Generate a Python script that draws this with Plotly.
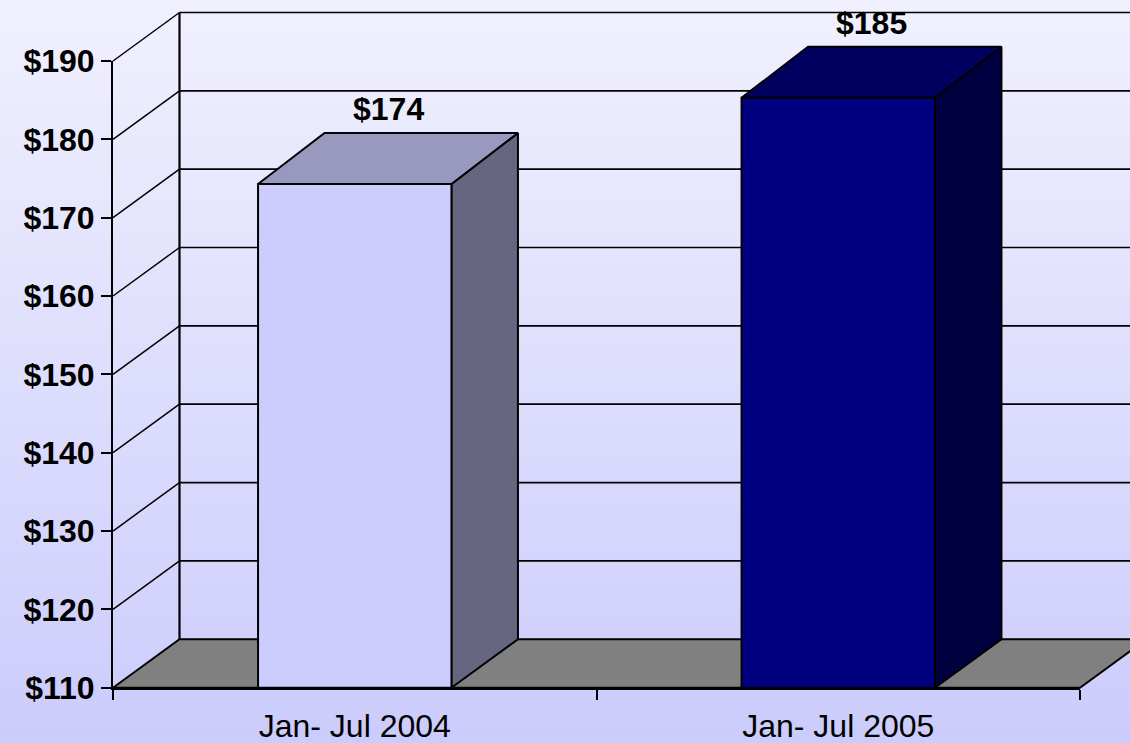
import plotly.graph_objects as go

# ---------------- data ----------------
categories = ["Jan- Jul 2004", "Jan- Jul 2005"]
values = [174.3, 185.3]
label_texts = ["$174", "$185"]
y_tick_values = [110, 120, 130, 140, 150, 160, 170, 180, 190]
y_tick_labels = ["$110", "$120", "$130", "$140", "$150", "$160", "$170", "$180", "$190"]
front_colors = ["#CCCCFF", "#000080"]
top_colors = ["#9999C0", "#00005F"]
side_colors = ["#666680", "#000040"]

# ---------------- geometry (layout) ----------------
W, H = 1130, 743
Y_MIN, Y_MAX = 110, 190
PX_X0, PX_X1 = 113, 1080          # front x-axis span in pixels
PX_YMIN, PX_YMAX = 687.7, 61.0    # pixel rows of Y_MIN / Y_MAX on front plane
ux = (PX_X1 - PX_X0) / 2.0        # px per category unit
uy = (PX_YMIN - PX_YMAX) / (Y_MAX - Y_MIN)  # px per value unit

DX = 66.5 / ux        # depth offset (x) in category units
DY = 48.5 / uy        # depth offset (y) for walls / floor
DYT = 51.0 / uy       # depth offset (y) at bar tops
BAR_W = 0.4

x_range = [-PX_X0 / ux, -PX_X0 / ux + W / ux]
y_range = [Y_MIN - (H - PX_YMIN) / uy, Y_MAX + PX_YMAX / uy]

FONT = "Arial, Liberation Sans, sans-serif"
fig = go.Figure()

# background gradient
top_c = (240, 240, 254)
bot_c = (204, 204, 252)
N = 60
shapes = []
for i in range(N):
    t = i / (N - 1)
    c = tuple(round(top_c[k] + (bot_c[k] - top_c[k]) * t) for k in range(3))
    shapes.append(dict(type="rect", xref="paper", yref="paper", layer="below",
                       x0=0, x1=1, y0=1 - (i + 1) / N - 0.002, y1=1 - i / N,
                       fillcolor="rgb(%d,%d,%d)" % c, line=dict(width=0)))

def poly(xs, ys, fill, lw=2):
    fig.add_trace(go.Scatter(x=xs + [xs[0]], y=ys + [ys[0]], mode="lines",
                             fill="toself", fillcolor=fill,
                             line=dict(color="black", width=lw),
                             hoverinfo="skip", showlegend=False))

def lines(xs, ys, lw):
    fig.add_trace(go.Scatter(x=xs, y=ys, mode="lines",
                             line=dict(color="black", width=lw),
                             hoverinfo="skip", showlegend=False))

n = len(categories)
# floor
poly([0, n, n + DX, DX], [Y_MIN, Y_MIN, Y_MIN + DY, Y_MIN + DY], "#808080", 2)

# back wall gridlines and left wall diagonals
gx, gy, dx_, dy_ = [], [], [], []
for v in y_tick_values:
    if v > Y_MIN:
        gx += [DX, n + DX, None]
        gy += [v + DY, v + DY, None]
        dx_ += [0, DX, None]
        dy_ += [v, v + DY, None]
lines(gx, gy, 1.7)
lines(dx_, dy_, 1.5)
lines([DX, DX], [Y_MIN + DY, Y_MAX + DY], 2.2)

# bars
for i, v in enumerate(values):
    c = i + 0.5
    xl, xr = c - BAR_W / 2, c + BAR_W / 2
    poly([xr, xr + DX, xr + DX, xr], [Y_MIN, Y_MIN + DY, v + DYT, v], side_colors[i])
    poly([xl, xr, xr + DX, xl + DX], [v, v, v + DYT, v + DYT], top_colors[i])
    poly([xl, xr, xr, xl], [Y_MIN, Y_MIN, v, v], front_colors[i])

annotations = []
for i, v in enumerate(values):
    annotations.append(dict(x=i + 0.5 + DX / 2, y=v + DYT + 3.0, xref="x", yref="y",
                            text=label_texts[i], showarrow=False,
                            font=dict(family=FONT, size=32, color="black", weight="bold"),
                            xanchor="center", yanchor="middle"))

# dummy trace for front axes
fig.add_trace(go.Scatter(x=[0, n], y=[Y_MIN, Y_MAX], xaxis="x2", yaxis="y2",
                         mode="markers", marker=dict(opacity=0),
                         hoverinfo="skip", showlegend=False))

fig.update_layout(
    width=W, height=H, autosize=False,
    margin=dict(l=0, r=0, t=0, b=0, pad=0, autoexpand=False),
    paper_bgcolor="#E6E6FC",
    plot_bgcolor="rgba(0,0,0,0)",
    hovermode=False,
    shapes=shapes,
    annotations=annotations,
    xaxis=dict(domain=[0, 1], range=x_range, visible=False, fixedrange=True, automargin=False),
    yaxis=dict(domain=[0, 1], range=y_range, visible=False, fixedrange=True, automargin=False),
    xaxis2=dict(domain=[PX_X0 / W, PX_X1 / W], range=[0, n], anchor="y2",
                showline=True, linecolor="black", linewidth=2,
                showgrid=False, zeroline=False, automargin=False,
                tickvals=[i + 0.5 for i in range(n)], ticktext=categories,
                ticks="", ticklabelstandoff=9,
                tickfont=dict(family=FONT, size=32, color="black"),
                minor=dict(tickvals=list(range(n + 1)), ticks="outside",
                           ticklen=10, tickwidth=2, tickcolor="black"),
                fixedrange=True),
    yaxis2=dict(domain=[(H - PX_YMIN) / H, (H - PX_YMAX) / H], range=[Y_MIN, Y_MAX],
                anchor="x2", showline=True, linecolor="black", linewidth=2,
                showgrid=False, zeroline=False, automargin=False,
                tickvals=y_tick_values, ticktext=y_tick_labels,
                ticks="outside", ticklen=10, tickwidth=2, tickcolor="black",
                tickfont=dict(family=FONT, size=32, color="black", weight="bold"),
                fixedrange=True),
)

fig.write_html("out.html", config={"displayModeBar": False},
               post_script="document.body.style.margin='0px';document.body.style.overflow='hidden';")
